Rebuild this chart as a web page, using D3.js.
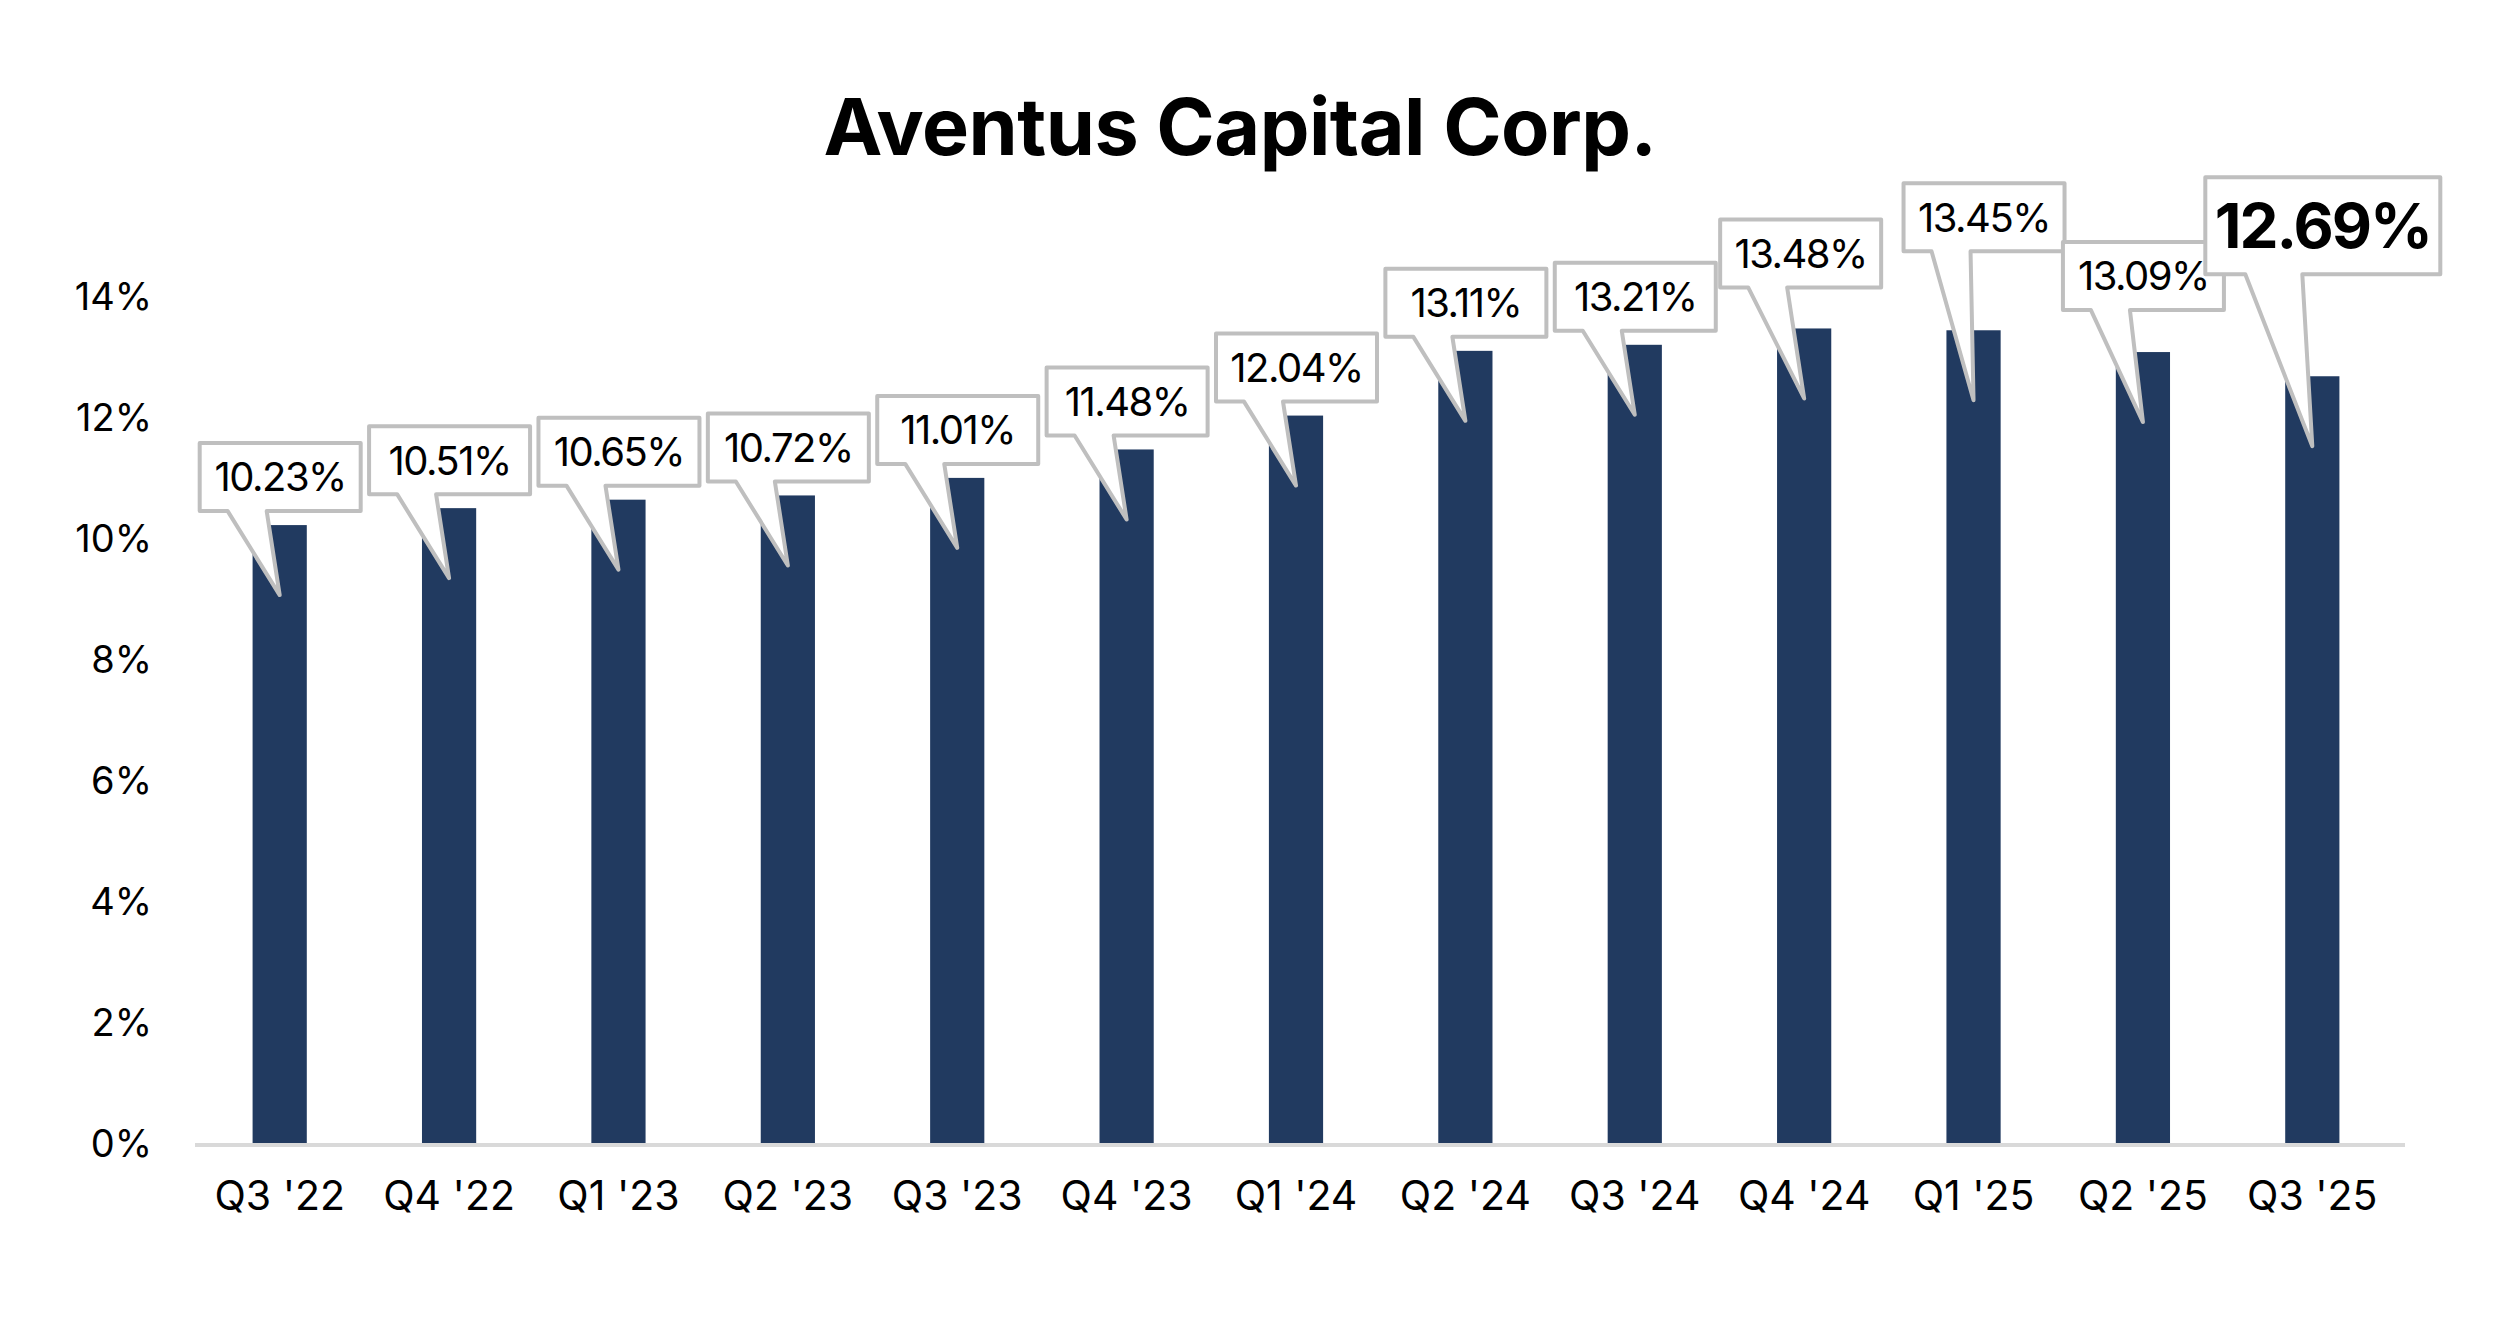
<!DOCTYPE html>
<html>
<head>
<meta charset="utf-8">
<script src="https://cdn.jsdelivr.net/npm/d3@7"></script>
<style>
  body { margin: 0; background: #fff; }
  svg { display: block; font-family: Inter, "Open Sans", sans-serif; }
</style>
</head>
<body>
<div id="chart"></div>
<script>
var quarters = ["Q3 '22", "Q4 '22", "Q1 '23", "Q2 '23", "Q3 '23", "Q4 '23", "Q1 '24",
                "Q2 '24", "Q3 '24", "Q4 '24", "Q1 '25", "Q2 '25", "Q3 '25"];
var ratios = [10.23, 10.51, 10.65, 10.72, 11.01, 11.48, 12.04, 13.11, 13.21, 13.48, 13.45, 13.09, 12.69];
var yTicks = [0, 2, 4, 6, 8, 10, 12, 14];
var title = "Aventus Capital Corp.";

// callout layout (extra lift above the bar, horizontal shift of the box from bar center)
var calloutLift = [0, 0, 0, 0, 0, 0, 0, 0, 0, 27, 65, 28, 88];
var calloutShift = [-80, -80, -80, -80, -80, -80, -80, -80, -80, -84, -70, -80, -107];

var width = 2500, height = 1338;
var svg = d3.select("#chart").append("svg")
	.attr("width", width)
	.attr("height", height);

var x = d3.scaleBand().domain(quarters).range([195, 2397]).paddingInner(0.68).paddingOuter(0.34);
var y = d3.scaleLinear().domain([0, 14]).range([1144, 297]);

// title
svg.append("text")
	.attr("x", 1240).attr("y", 155)
	.attr("text-anchor", "middle")
	.style("font-size", "79px").style("font-weight", 700)
	.style("letter-spacing", "-0.5px")
	.text(title);

// y axis labels
var yAxis = svg.append("g")
	.attr("transform", "translate(152,0)")
	.call(d3.axisLeft(y).tickValues(yTicks).tickSize(0).tickPadding(0).tickFormat(function(d) { return d + "%"; }));
yAxis.select(".domain").remove();
yAxis.selectAll("text").style("font-size", "38px").style("font-family", "Inter, sans-serif").attr("fill", "#000");

// bars
svg.append("g").selectAll("rect")
	.data(ratios)
	.enter().append("rect")
	.attr("x", function(d, i) { return x(quarters[i]); })
	.attr("y", function(d) { return y(d); })
	.attr("width", x.bandwidth())
	.attr("height", function(d) { return y(0) - y(d); })
	.attr("fill", "#213a60");

// baseline
svg.append("line")
	.attr("x1", x.range()[0]).attr("x2", x.range()[1] + 8)
	.attr("y1", y(0) + 1).attr("y2", y(0) + 1)
	.attr("stroke", "#d9d9d9").attr("stroke-width", 4);

// x axis labels
var xAxis = svg.append("g")
	.attr("transform", "translate(0," + 1181 + ")")
	.call(d3.axisBottom(x).tickSize(0).tickPadding(0));
xAxis.select(".domain").remove();
xAxis.selectAll("text").style("font-size", "41px").style("font-family", "Inter, sans-serif")
	.attr("fill", "#000").attr("dy", "0.71em");

// callouts
var last = ratios.length - 1;
var callouts = svg.append("g").selectAll("g")
	.data(ratios)
	.enter().append("g");

callouts.append("path")
	.attr("d", function(d, i) {
		var big = i === last;
		var w = big ? 235 : 161, h = big ? 97 : 68;
		var cx = x(quarters[i]) + x.bandwidth() / 2;
		var top0 = y(d);
		var bottom = top0 - 14 - calloutLift[i];
		var top = bottom - h;
		var left = cx + calloutShift[i];
		var tl = left + (big ? 40 : 28), tr = left + (big ? 97 : 67);
		return "M" + left + "," + top + "H" + (left + w) + "V" + bottom + "H" + tr +
			"L" + cx + "," + (top0 + 70) + "L" + tl + "," + bottom + "H" + left + "Z";
	})
	.attr("fill", "#fff")
	.attr("stroke", "#bfbfbf")
	.attr("stroke-width", 4)
	.attr("stroke-linejoin", "round");

callouts.append("text")
	.attr("x", function(d, i) {
		var w = i === last ? 235 : 161;
		return x(quarters[i]) + x.bandwidth() / 2 + calloutShift[i] + w / 2;
	})
	.attr("y", function(d, i) {
		var h = i === last ? 97 : 68;
		return y(d) - 14 - calloutLift[i] - h / 2;
	})
	.attr("dy", "0.36em")
	.attr("text-anchor", "middle")
	.style("font-size", function(d, i) { return i === last ? "62px" : "40px"; })
	.style("font-weight", function(d, i) { return i === last ? 700 : 400; })
	.style("letter-spacing", function(d, i) { return i === last ? "-2px" : "-1.5px"; })
	.text(function(d) { return d.toFixed(2) + "%"; });
</script>
</body>
</html>
